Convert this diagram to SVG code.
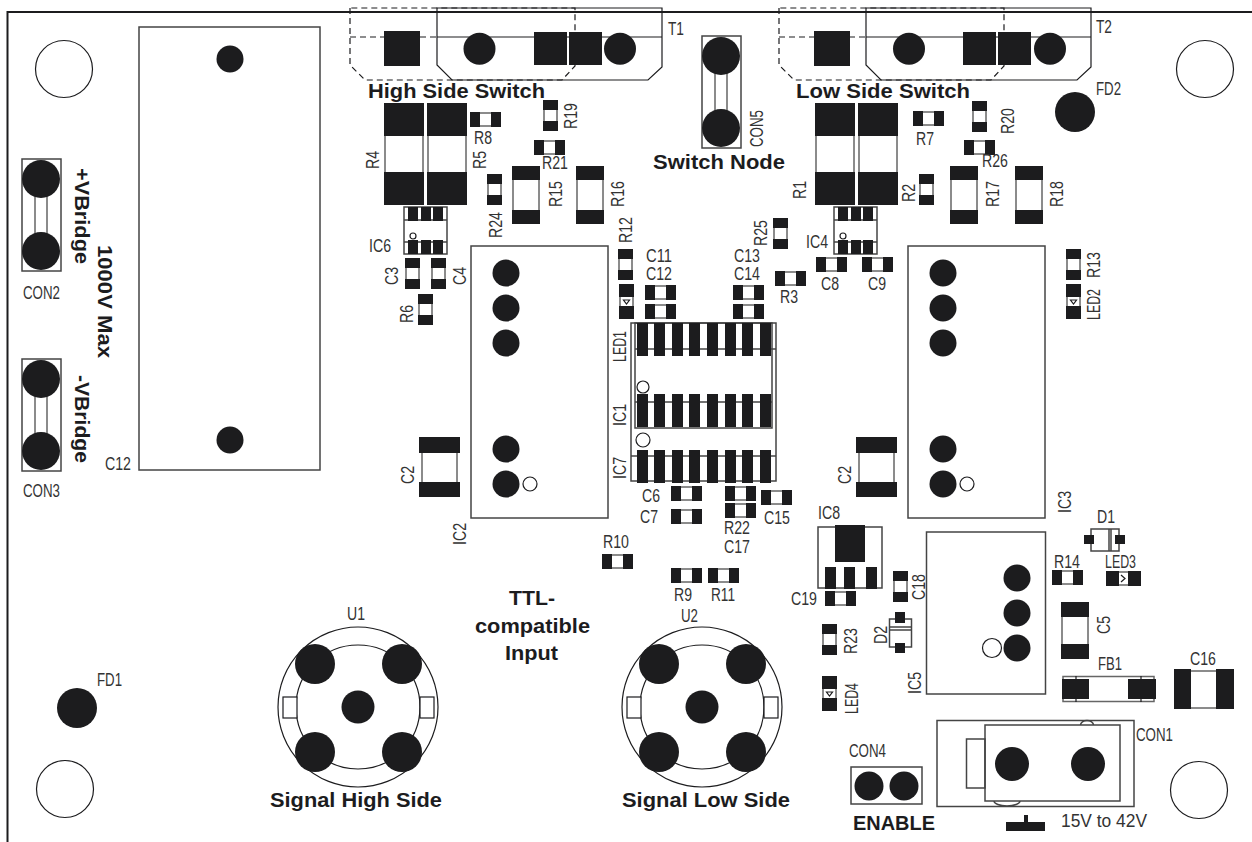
<svg xmlns="http://www.w3.org/2000/svg" xmlns:xlink="http://www.w3.org/1999/xlink" width="1252" height="842" viewBox="0 0 1252 842">
<style>
.p{fill:#1c1c1e;stroke:none}
.o{fill:none;stroke:#444;stroke-width:1.5}
.g{fill:none;stroke:#666;stroke-width:1.5}
.k{fill:none;stroke:#1c1c1e;stroke-width:1.2}
.d{fill:none;stroke:#1c1c1e;stroke-width:1.2;stroke-dasharray:6 4}
.w{fill:#fff;stroke:#1c1c1e;stroke-width:1.2}
.t{font-family:"Liberation Sans",Arial,sans-serif;font-size:18px;fill:#333}
.b{font-family:"Liberation Sans",Arial,sans-serif;font-size:21px;font-weight:bold;fill:#1c1c1e}
.r{font-family:"Liberation Sans",Arial,sans-serif;font-size:17.5px;fill:#333}
</style>
<defs>
<g id="rh"><rect class="g" x="5" y="1" width="21" height="13"/><rect class="p" width="10" height="15"/><rect class="p" x="21" width="10" height="15"/></g>
<g id="rv"><rect class="g" x="1" y="5" width="13" height="21"/><rect class="p" width="15" height="10"/><rect class="p" y="21" width="15" height="10"/></g>
<g id="rb"><rect class="g" x="1" y="7" width="26" height="44"/><rect class="p" width="28" height="14"/><rect class="p" y="44" width="28" height="14"/></g>
<g id="rp"><rect class="g" x="1" y="20" width="38" height="60"/><rect class="p" width="40" height="33"/><rect class="p" y="69" width="40" height="33"/></g>
<g id="c2"><rect class="g" x="3" y="10" width="35" height="40"/><rect class="p" width="41" height="16"/><rect class="p" y="45" width="41" height="15"/></g>
<g id="lv"><rect class="g" x="1" y="8" width="13" height="20"/><rect class="p" width="15" height="13"/><rect class="p" y="22" width="15" height="13"/><path class="k" d="M4.500 16 L10.500 16 L7.500 20 Z"/></g>
<g id="row"><rect class="p" width="11" height="33"/><rect class="p" x="17" width="11" height="33"/><rect class="p" x="35" width="11" height="33"/><rect class="p" x="52" width="11" height="33"/><rect class="p" x="70" width="11" height="33"/><rect class="p" x="88" width="11" height="33"/><rect class="p" x="105" width="11" height="33"/><rect class="p" x="123" width="11" height="33"/></g>
<g id="so6"><rect class="o" width="43" height="47"/><path class="o" d="M0 13H43M0 35H43"/><rect class="p" x="4" width="10" height="14"/><rect class="p" x="17" width="10" height="14"/><rect class="p" x="29" width="10" height="14"/><rect class="p" x="4" y="33" width="10" height="14"/><rect class="p" x="17" y="33" width="10" height="14"/><rect class="p" x="29" y="33" width="10" height="14"/><circle class="w" cx="9" cy="29" r="3"/></g>
<g id="to"><path class="d" d="M0 8V65L15 80H212L225 66V8ZM0 37H87"/><path class="k" d="M87 8H312V67L298 80H102L87 65ZM87 37H312"/></g>
<g id="mod"><rect class="o" width="137" height="272"/><circle class="p" cx="35" cy="27" r="13.500"/><circle class="p" cx="35" cy="62" r="13.500"/><circle class="p" cx="35" cy="97" r="13.500"/><circle class="p" cx="35" cy="203" r="13.500"/><circle class="p" cx="35" cy="238" r="13.500"/><circle class="w" cx="59" cy="238" r="7"/></g>
<g id="usb"><circle class="k" r="80"/><circle class="k" r="62"/><rect class="w" x="-75" y="-10" width="14" height="21"/><rect class="w" x="62" y="-10" width="14" height="21"/><circle class="p" cx="-43" cy="-43" r="20"/><circle class="p" cx="44" cy="-43" r="20"/><circle class="p" cx="-43" cy="45" r="20"/><circle class="p" cx="44" cy="45" r="20"/><circle class="p" r="16.500"/></g>
<g id="con"><rect class="o" width="39" height="112"/><path class="g" d="M13 20V92M25 20V92"/><circle class="p" cx="19" cy="20" r="19"/><circle class="p" cx="19" cy="92" r="19"/></g>
</defs>
<rect width="1252" height="842" fill="#fff"/>
<g id="connectors"><path d="M7.500 842V12H1252" fill="none" stroke="#1c1c1e" stroke-width="2"/></g>
<g id="holes"><circle class="k" cx="64" cy="69" r="28.500"/><circle class="k" cx="65" cy="789" r="28.500"/><circle class="k" cx="1205" cy="69" r="28.500"/><circle class="k" cx="1199" cy="790" r="28.500"/></g>
<g id="T1"><use href="#to" x="350"/><rect class="p" x="384" y="31" width="36" height="35"/><circle class="p" cx="479.500" cy="48.700" r="16"/><rect class="p" x="534" y="32" width="33" height="33"/><rect class="p" x="569" y="32" width="33" height="33"/><circle class="p" cx="620" cy="48.700" r="16"/><text class="t" x="668" y="35" textLength="16" lengthAdjust="spacingAndGlyphs">T1</text></g>
<g id="T2"><use href="#to" x="779"/><rect class="p" x="814" y="31" width="36" height="35"/><circle class="p" cx="909" cy="48.700" r="16"/><rect class="p" x="963" y="32" width="33" height="33"/><rect class="p" x="998" y="32" width="33" height="33"/><circle class="p" cx="1050" cy="48.700" r="16"/><text class="t" x="1096" y="33" textLength="16" lengthAdjust="spacingAndGlyphs">T2</text></g>
<g id="C12big"><rect class="o" x="139" y="27" width="181" height="443"/><circle class="p" cx="230" cy="59" r="13.500"/><circle class="p" cx="230" cy="440" r="13.500"/><text class="t" x="105" y="470" textLength="26" lengthAdjust="spacingAndGlyphs">C12</text></g>
<g id="CON2"><use href="#con" x="22" y="159"/><text class="t" x="23" y="299" textLength="37" lengthAdjust="spacingAndGlyphs">CON2</text></g>
<g id="CON3"><use href="#con" x="22" y="359"/><text class="t" x="23" y="497" textLength="37" lengthAdjust="spacingAndGlyphs">CON3</text></g>
<g id="CON5"><use href="#con" x="702" y="36"/><text class="t" transform="translate(763 147) rotate(-90)" textLength="37" lengthAdjust="spacingAndGlyphs">CON5</text></g>
<g id="FD1"><circle class="p" cx="77" cy="708" r="20"/><text class="t" x="97" y="686" textLength="25" lengthAdjust="spacingAndGlyphs">FD1</text></g>
<g id="FD2"><circle class="p" cx="1075" cy="112" r="20"/><text class="t" x="1096" y="95" textLength="25" lengthAdjust="spacingAndGlyphs">FD2</text></g>
<g id="R4"><use href="#rp" x="384" y="103"/><text class="t" transform="translate(379 169) rotate(-90)" textLength="18" lengthAdjust="spacingAndGlyphs">R4</text></g>
<g id="R5"><use href="#rp" x="427" y="103"/><text class="t" transform="translate(486 169) rotate(-90)" textLength="18" lengthAdjust="spacingAndGlyphs">R5</text></g>
<g id="R1"><use href="#rp" x="815" y="103"/><text class="t" transform="translate(806 199) rotate(-90)" textLength="18" lengthAdjust="spacingAndGlyphs">R1</text></g>
<g id="R1b"><use href="#rp" x="858" y="103"/></g>
<g id="R8"><use href="#rh" x="470" y="112"/><text class="t" x="474" y="144" textLength="18" lengthAdjust="spacingAndGlyphs">R8</text></g>
<g id="R19"><use href="#rv" x="543" y="100"/><text class="t" transform="translate(577 129) rotate(-90)" textLength="26" lengthAdjust="spacingAndGlyphs">R19</text></g>
<g id="R21"><use href="#rh" x="534" y="140"/><text class="t" x="542" y="169" textLength="26" lengthAdjust="spacingAndGlyphs">R21</text></g>
<g id="R24"><use href="#rv" x="487" y="174"/><text class="t" transform="translate(502 238) rotate(-90)" textLength="26" lengthAdjust="spacingAndGlyphs">R24</text></g>
<g id="R15"><use href="#rb" x="512" y="166"/><text class="t" transform="translate(562 207) rotate(-90)" textLength="26" lengthAdjust="spacingAndGlyphs">R15</text></g>
<g id="R16"><use href="#rb" x="576" y="166"/><text class="t" transform="translate(624 207) rotate(-90)" textLength="26" lengthAdjust="spacingAndGlyphs">R16</text></g>
<g id="R7"><use href="#rh" x="913" y="111"/><text class="t" x="916" y="145" textLength="18" lengthAdjust="spacingAndGlyphs">R7</text></g>
<g id="R20"><use href="#rv" x="972" y="101"/><text class="t" transform="translate(1014 134) rotate(-90)" textLength="26" lengthAdjust="spacingAndGlyphs">R20</text></g>
<g id="R26"><use href="#rh" x="964" y="140"/><text class="t" x="982" y="167" textLength="26" lengthAdjust="spacingAndGlyphs">R26</text></g>
<g id="R2"><use href="#rv" x="919" y="174"/><text class="t" transform="translate(915 202) rotate(-90)" textLength="18" lengthAdjust="spacingAndGlyphs">R2</text></g>
<g id="R17"><use href="#rb" x="950" y="166"/><text class="t" transform="translate(999 207) rotate(-90)" textLength="26" lengthAdjust="spacingAndGlyphs">R17</text></g>
<g id="R18"><use href="#rb" x="1015" y="166"/><text class="t" transform="translate(1063 207) rotate(-90)" textLength="26" lengthAdjust="spacingAndGlyphs">R18</text></g>
<g id="IC6"><use href="#so6" x="404" y="207"/><text class="t" x="369" y="252" textLength="22" lengthAdjust="spacingAndGlyphs">IC6</text></g>
<g id="IC4"><use href="#so6" x="834" y="207"/><text class="t" x="806" y="248" textLength="22" lengthAdjust="spacingAndGlyphs">IC4</text></g>
<g id="C3"><use href="#rv" x="405" y="258"/><text class="t" transform="translate(398 285) rotate(-90)" textLength="18" lengthAdjust="spacingAndGlyphs">C3</text></g>
<g id="C4"><use href="#rv" x="431" y="258"/><text class="t" transform="translate(466 285) rotate(-90)" textLength="18" lengthAdjust="spacingAndGlyphs">C4</text></g>
<g id="R6"><use href="#rv" x="418" y="294"/><text class="t" transform="translate(413 323) rotate(-90)" textLength="18" lengthAdjust="spacingAndGlyphs">R6</text></g>
<g id="R12"><use href="#rv" x="618" y="249"/><text class="t" transform="translate(632 243) rotate(-90)" textLength="26" lengthAdjust="spacingAndGlyphs">R12</text></g>
<g id="LED1"><use href="#lv" x="619" y="284"/><text class="t" transform="translate(626 362) rotate(-90)" textLength="31" lengthAdjust="spacingAndGlyphs">LED1</text></g>
<g id="C11"><use href="#rh" x="645" y="285"/><text class="t" x="646" y="262" textLength="26" lengthAdjust="spacingAndGlyphs">C11</text></g>
<g id="C12"><use href="#rh" x="645" y="304"/><text class="t" x="646" y="280" textLength="26" lengthAdjust="spacingAndGlyphs">C12</text></g>
<g id="C13"><use href="#rh" x="733" y="285"/><text class="t" x="734" y="262" textLength="26" lengthAdjust="spacingAndGlyphs">C13</text></g>
<g id="C14"><use href="#rh" x="733" y="304"/><text class="t" x="734" y="280" textLength="26" lengthAdjust="spacingAndGlyphs">C14</text></g>
<g id="R3"><use href="#rh" x="775" y="271"/><text class="t" x="780" y="303" textLength="18" lengthAdjust="spacingAndGlyphs">R3</text></g>
<g id="R25"><use href="#rv" x="773" y="218"/><text class="t" transform="translate(767 246) rotate(-90)" textLength="26" lengthAdjust="spacingAndGlyphs">R25</text></g>
<g id="C8"><use href="#rh" x="816" y="257"/><text class="t" x="821" y="290" textLength="18" lengthAdjust="spacingAndGlyphs">C8</text></g>
<g id="C9"><use href="#rh" x="862" y="257"/><text class="t" x="868" y="290" textLength="18" lengthAdjust="spacingAndGlyphs">C9</text></g>
<g id="R13"><use href="#rv" x="1066" y="249"/><text class="t" transform="translate(1100 278) rotate(-90)" textLength="26" lengthAdjust="spacingAndGlyphs">R13</text></g>
<g id="LED2"><use href="#lv" x="1066" y="284"/><text class="t" transform="translate(1100 320) rotate(-90)" textLength="31" lengthAdjust="spacingAndGlyphs">LED2</text></g>
<g id="IC1"><rect class="o" x="635" y="323" width="137" height="105"/><path class="o" d="M635 349H776M635 402H772"/><use href="#row" x="637" y="394"/><circle class="w" cx="643" cy="387" r="6"/><text class="t" transform="translate(626 426) rotate(-90)" textLength="22" lengthAdjust="spacingAndGlyphs">IC1</text></g>
<g id="IC7"><rect class="o" x="631" y="323" width="145" height="158"/><path class="o" d="M631 456H776"/><use href="#row" x="637" y="323"/><use href="#row" x="637" y="450"/><circle class="w" cx="643" cy="440" r="7"/><text class="t" transform="translate(626 479) rotate(-90)" textLength="22" lengthAdjust="spacingAndGlyphs">IC7</text></g>
<g id="C6"><use href="#rh" x="671" y="486"/><text class="t" x="642" y="502" textLength="18" lengthAdjust="spacingAndGlyphs">C6</text></g>
<g id="C7"><use href="#rh" x="671" y="509"/><text class="t" x="640" y="523" textLength="18" lengthAdjust="spacingAndGlyphs">C7</text></g>
<g id="R22"><use href="#rh" x="725" y="486"/><text class="t" x="724" y="534" textLength="26" lengthAdjust="spacingAndGlyphs">R22</text></g>
<g id="C17"><use href="#rh" x="725" y="503"/><text class="t" x="724" y="553" textLength="26" lengthAdjust="spacingAndGlyphs">C17</text></g>
<g id="C15"><use href="#rh" x="761" y="490"/><text class="t" x="764" y="524" textLength="26" lengthAdjust="spacingAndGlyphs">C15</text></g>
<g id="R10"><use href="#rh" x="602" y="554"/><text class="t" x="603" y="548" textLength="26" lengthAdjust="spacingAndGlyphs">R10</text></g>
<g id="R9"><use href="#rh" x="671" y="568"/><text class="t" x="674" y="601" textLength="18" lengthAdjust="spacingAndGlyphs">R9</text></g>
<g id="R11"><use href="#rh" x="708" y="568"/><text class="t" x="711" y="601" textLength="24" lengthAdjust="spacingAndGlyphs">R11</text></g>
<g id="IC2"><use href="#mod" x="471" y="246"/><text class="t" transform="translate(466 545) rotate(-90)" textLength="22" lengthAdjust="spacingAndGlyphs">IC2</text></g>
<g id="IC3"><use href="#mod" x="908" y="246"/><text class="t" transform="translate(1071 513) rotate(-90)" textLength="22" lengthAdjust="spacingAndGlyphs">IC3</text></g>
<g id="C2a"><use href="#c2" x="419" y="437"/><text class="t" transform="translate(414 484) rotate(-90)" textLength="18" lengthAdjust="spacingAndGlyphs">C2</text></g>
<g id="C2b"><use href="#c2" x="856" y="437"/><text class="t" transform="translate(851 484) rotate(-90)" textLength="18" lengthAdjust="spacingAndGlyphs">C2</text></g>
<g id="IC8"><rect class="o" x="818" y="527" width="64" height="61"/><rect class="p" x="835" y="525" width="30" height="37"/><rect class="p" x="825" y="567" width="11" height="22"/><rect class="p" x="844" y="567" width="11" height="22"/><rect class="p" x="866" y="567" width="11" height="22"/><text class="t" x="818" y="519" textLength="22" lengthAdjust="spacingAndGlyphs">IC8</text></g>
<g id="C19"><use href="#rh" x="825" y="591"/><text class="t" x="791" y="605" textLength="26" lengthAdjust="spacingAndGlyphs">C19</text></g>
<g id="C18"><use href="#rv" x="893" y="571"/><text class="t" transform="translate(925 600) rotate(-90)" textLength="26" lengthAdjust="spacingAndGlyphs">C18</text></g>
<g id="D2"><rect class="o" x="889.500" y="619" width="22" height="28"/><path class="o" d="M889.500 627H911.500M889.500 630H911.500"/><rect class="p" x="895" y="612" width="10" height="11"/><rect class="p" x="895" y="643" width="10" height="10"/><text class="t" transform="translate(887 644) rotate(-90)" textLength="18" lengthAdjust="spacingAndGlyphs">D2</text></g>
<g id="R23"><use href="#rv" x="822" y="624"/><text class="t" transform="translate(857 654) rotate(-90)" textLength="26" lengthAdjust="spacingAndGlyphs">R23</text></g>
<g id="LED4"><use href="#lv" x="822" y="676"/><text class="t" transform="translate(858 714) rotate(-90)" textLength="31" lengthAdjust="spacingAndGlyphs">LED4</text></g>
<g id="IC5"><rect class="o" x="926.500" y="532" width="119" height="162"/><circle class="p" cx="1017" cy="578" r="13.500"/><circle class="p" cx="1017" cy="613" r="13.500"/><circle class="p" cx="1017" cy="648" r="13.500"/><circle class="w" cx="992" cy="648" r="9.500"/><text class="t" transform="translate(921 694) rotate(-90)" textLength="22" lengthAdjust="spacingAndGlyphs">IC5</text></g>
<g id="R14"><use href="#rh" x="1052" y="570"/><text class="t" x="1054" y="568" textLength="26" lengthAdjust="spacingAndGlyphs">R14</text></g>
<g id="LED3"><rect class="g" x="1114" y="572" width="20" height="13"/><rect class="p" x="1106" y="571" width="13" height="15"/><rect class="p" x="1128" y="571" width="13" height="15"/><path class="k" d="M1121 575L1125 578.500L1121 582"/><text class="t" x="1105" y="568" textLength="31" lengthAdjust="spacingAndGlyphs">LED3</text></g>
<g id="D1"><rect class="o" x="1091" y="529" width="28" height="22"/><path class="o" d="M1109 529V551M1111 529V551"/><rect class="p" x="1084" y="535" width="10" height="9"/><rect class="p" x="1115" y="535" width="10" height="9"/><text class="t" x="1097" y="523" textLength="18" lengthAdjust="spacingAndGlyphs">D1</text></g>
<g id="C5"><rect class="g" x="1062" y="610" width="26" height="42"/><rect class="p" x="1061" y="602" width="28" height="15"/><rect class="p" x="1061" y="644" width="28" height="15"/><text class="t" transform="translate(1110 634) rotate(-90)" textLength="18" lengthAdjust="spacingAndGlyphs">C5</text></g>
<g id="FB1"><rect class="g" x="1063" y="676.500" width="91" height="25"/><path class="k" d="M1076 676V702M1141 676V702"/><rect class="p" x="1062" y="679" width="27" height="20"/><rect class="p" x="1128" y="679" width="28" height="20"/><text class="t" x="1098" y="670" textLength="24" lengthAdjust="spacingAndGlyphs">FB1</text></g>
<g id="C16"><rect class="g" x="1188" y="671" width="32" height="37"/><rect class="p" x="1174" y="669" width="17" height="40"/><rect class="p" x="1216" y="669" width="18" height="40"/><text class="t" x="1190" y="665" textLength="26" lengthAdjust="spacingAndGlyphs">C16</text></g>
<g id="CON1"><rect class="o" x="937" y="720.500" width="197" height="86"/><ellipse class="o" cx="1087" cy="725" rx="6.500" ry="4.500"/><ellipse class="o" cx="1007" cy="801" rx="13" ry="5"/><rect class="w" x="985" y="725" width="135" height="76" style="stroke:#444;stroke-width:1.500"/><rect class="o" x="966.500" y="739" width="18.500" height="49"/><circle class="p" cx="1012" cy="764" r="17"/><circle class="p" cx="1088" cy="764" r="17"/><text class="t" x="1136" y="741" textLength="37" lengthAdjust="spacingAndGlyphs">CON1</text></g>
<g id="CON4"><rect class="o" x="851" y="767" width="71" height="37"/><circle class="p" cx="869" cy="786" r="14.500"/><circle class="p" cx="904" cy="786" r="14.500"/><text class="t" x="849" y="757" textLength="37" lengthAdjust="spacingAndGlyphs">CON4</text></g>
<g id="ground"><path class="p" d="M1006 822H1024V815H1028V822H1045V831H1006Z"/><text class="r" x="1061" y="827" textLength="86" lengthAdjust="spacingAndGlyphs">15V to 42V</text></g>
<g id="U1"><use href="#usb" x="358" y="707"/><text class="t" x="347" y="620" textLength="18" lengthAdjust="spacingAndGlyphs">U1</text></g>
<g id="U2"><use href="#usb" x="702" y="707"/><text class="t" x="681" y="622" textLength="17" lengthAdjust="spacingAndGlyphs">U2</text></g>
<g id="labels">
<text class="b" x="368" y="98" textLength="177" lengthAdjust="spacingAndGlyphs">High Side Switch</text>
<text class="b" x="796" y="98" textLength="174" lengthAdjust="spacingAndGlyphs">Low Side Switch</text>
<text class="b" x="653" y="169" textLength="132" lengthAdjust="spacingAndGlyphs">Switch Node</text>
<text class="b" x="270" y="807" textLength="172" lengthAdjust="spacingAndGlyphs">Signal High Side</text>
<text class="b" x="622" y="807" textLength="168" lengthAdjust="spacingAndGlyphs">Signal Low Side</text>
<text class="b" x="853" y="830" textLength="82" lengthAdjust="spacingAndGlyphs">ENABLE</text>
<text class="b" x="509" y="605" textLength="46" lengthAdjust="spacingAndGlyphs">TTL-</text>
<text class="b" x="475" y="633" textLength="115" lengthAdjust="spacingAndGlyphs">compatible</text>
<text class="b" x="505" y="660" textLength="53" lengthAdjust="spacingAndGlyphs">Input</text>
<text class="b" transform="translate(98 245) rotate(90)" textLength="113" lengthAdjust="spacingAndGlyphs">1000V Max</text>
<text class="b" transform="translate(75 168) rotate(90)" textLength="96" lengthAdjust="spacingAndGlyphs">+VBridge</text>
<text class="b" transform="translate(75 375) rotate(90)" textLength="88" lengthAdjust="spacingAndGlyphs">-VBridge</text>
</g>
</svg>
